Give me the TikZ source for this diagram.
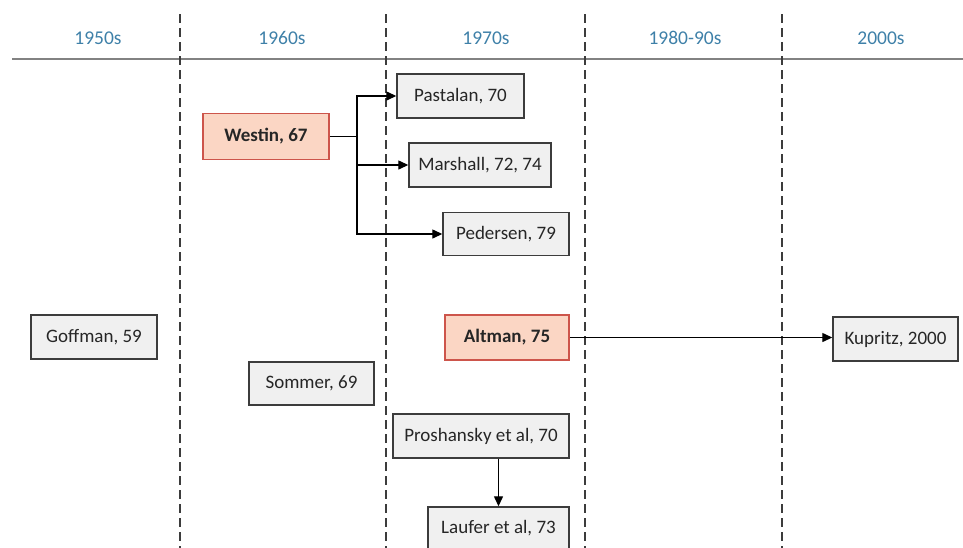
\documentclass[tikz,border=0pt]{standalone}
\usepackage{fontspec}
\setmainfont{Carlito}
\usetikzlibrary{arrows.meta}
\definecolor{hdrblue}{RGB}{62,128,168}
\definecolor{boxline}{RGB}{60,60,60}
\definecolor{boxfill}{RGB}{240,240,240}
\definecolor{keyline}{RGB}{205,85,75}
\definecolor{keyfill}{RGB}{251,214,196}
\definecolor{ruleline}{RGB}{130,130,130}
\tikzset{
  work/.style={draw=boxline, fill=boxfill, line width=1.4pt, inner sep=0pt,
    font=\fontsize{19}{22}\selectfont, text=black!85},
  keywork/.style={work, draw=keyline, line width=1.6pt, fill=keyfill, font=\fontsize{19}{22}\selectfont\bfseries},
  era/.style={font=\fontsize{19.5}{22}\selectfont, text=hdrblue},
  divider/.style={draw=boxline, line width=1.4pt, dash pattern=on 9pt off 5pt},
  link/.style={draw=black, line width=1.3pt, -{Triangle[length=10pt,width=9pt]}},
  plainlink/.style={draw=black, line width=1.3pt}
}
\begin{document}
\begin{tikzpicture}[x=1pt,y=-1pt]
\useasboundingbox (0,0) rectangle (963,547);

% era headings and rule
\node[era] (h50) at (98,38) {1950s};
\node[era] (h60) at (282,38) {1960s};
\node[era] (h70) at (486,38) {1970s};
\node[era] (h80) at (685,38) {1980-90s};
\node[era] (h00) at (881,38) {2000s};
\draw[ruleline, line width=1.1pt] (12,59) -- (963,59);

% decade dividers
\foreach \xx in {180,386,585,782}
  \draw[divider] (\xx,14) -- (\xx,560);

% works
\node[keywork, minimum width=126pt, minimum height=46pt] (westin) at (266,136.5) {Westin, 67};
\node[work, minimum width=127pt, minimum height=44pt] (pastalan) at (460.5,96) {Pastalan, 70};
\node[work, minimum width=142pt, minimum height=44pt] (marshall) at (480,165) {Marshall, 72, 74};
\node[work, minimum width=126pt, minimum height=43pt] (pedersen) at (506,234) {Pedersen, 79};
\node[work, minimum width=126pt, minimum height=44pt] (goffman) at (94,337) {Goffman, 59};
\node[keywork, minimum width=124pt, minimum height=45pt] (altman) at (507,337.5) {Altman, 75};
\node[work, minimum width=125pt, minimum height=44pt] (kupritz) at (895.5,339) {Kupritz, 2000};
\node[work, minimum width=125pt, minimum height=43pt] (sommer) at (311.5,383.5) {Sommer, 69};
\node[work, minimum width=176pt, minimum height=44pt] (proshansky) at (481,436) {Proshansky et al, 70};
\node[work, minimum width=141pt, minimum height=43pt] (laufer) at (498.5,528.5) {Laufer et al, 73};

% Westin branches
\coordinate (fork) at (357,136.5);
\draw[plainlink] (westin.east) -- (fork);
\draw[link] (fork) |- (pastalan.west);
\draw[link] (fork) |- (pedersen.west);
\draw[link] (fork |- marshall.west) -- (marshall.west);

% other links
\draw[link] (altman.east) -- (altman.east -| kupritz.west);
\draw[link] (laufer.north |- proshansky.south) -- (laufer.north);
\end{tikzpicture}
\end{document}
